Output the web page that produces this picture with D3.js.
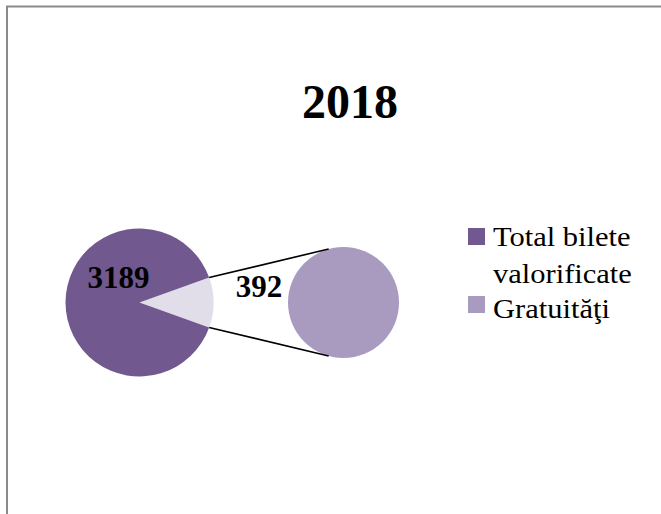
<!DOCTYPE html>
<html>
<head>
<meta charset="utf-8">
<script src="https://cdn.jsdelivr.net/npm/d3@7/dist/d3.min.js"></script>
<style>
  html, body { margin: 0; padding: 0; background: #fff; }
  svg { display: block; }
</style>
</head>
<body>
<svg id="chart" width="661" height="514"></svg>
<script>
// ---- data ----
const title = "2018";
const categories = ["Total bilete valorificate", "Gratuităţi"];
const mainValues = [3189];          // shown in the main pie
const secondaryValues = [392];      // split off into the secondary pie
const colors = ["#71588f", "#a99bc0"];
const otherColor = "#e1dde9";

// ---- layout ----
const W = 661, H = 514;
const mainC = { x: 139.5, y: 302.5 }, mainR = 74;
const secC = { x: 343.5, y: 302.5 }, secR = mainR * 0.75;
const font = "'Liberation Serif', 'Times New Roman', serif";

const svg = d3.select("#chart");

// frame
svg.append("path")
  .attr("d", `M7,${H + 5} V6.5 H${W + 5}`)
  .attr("fill", "none").attr("stroke", "#8a8a8a").attr("stroke-width", 2);

// title
svg.append("text")
  .attr("x", 350).attr("y", 118)
  .attr("text-anchor", "middle")
  .attr("font-family", font).attr("font-weight", "bold").attr("font-size", 48)
  .text(title);

// main pie: main values + "other" (sum of secondary)
const otherTotal = d3.sum(secondaryValues);
const mainTotal = d3.sum(mainValues) + otherTotal;
const otherAngle = otherTotal / mainTotal * 2 * Math.PI;
const start = Math.PI / 2 - otherAngle / 2;
const mainData = [{ v: otherTotal, other: true }].concat(mainValues.map((v, i) => ({ v, i })));
const pie = d3.pie().sort(null).value(d => d.v).startAngle(start).endAngle(start + 2 * Math.PI);
const arcMain = d3.arc().innerRadius(0).outerRadius(mainR);
const gMain = svg.append("g").attr("transform", `translate(${mainC.x},${mainC.y})`);
const mainArcs = pie(mainData);
gMain.selectAll("path").data(mainArcs).join("path")
  .attr("d", arcMain)
  .attr("fill", d => d.data.other ? otherColor : colors[d.data.i]);

// secondary pie
const pie2 = d3.pie().sort(null).startAngle(0).endAngle(2 * Math.PI);
const arcSec = d3.arc().innerRadius(0).outerRadius(secR);
const gSec = svg.append("g").attr("transform", `translate(${secC.x},${secC.y})`);
gSec.selectAll("path").data(pie2(secondaryValues)).join("path")
  .attr("d", arcSec)
  .attr("fill", (d, i) => colors[mainValues.length + i]);

// connector lines
const pt = (c, r, a) => [c.x + r * Math.sin(a), c.y - r * Math.cos(a)];
const otherArc = mainArcs[0];
const off = 15.5 * Math.PI / 180;
const lines = [
  [pt(mainC, mainR, otherArc.startAngle), pt(secC, secR, -off)],
  [pt(mainC, mainR, otherArc.endAngle), pt(secC, secR, Math.PI + off)]
];
svg.selectAll("line.conn").data(lines).join("line")
  .attr("class", "conn")
  .attr("x1", d => d[0][0]).attr("y1", d => d[0][1])
  .attr("x2", d => d[1][0]).attr("y2", d => d[1][1])
  .attr("stroke", "#000").attr("stroke-width", 1.6);

// data labels
svg.append("text")
  .attr("x", mainC.x - 21).attr("y", 288)
  .attr("text-anchor", "middle")
  .attr("font-family", font).attr("font-weight", "bold").attr("font-size", 31)
  .text(mainValues[0]);
svg.append("text")
  .attr("x", 259).attr("y", 297)
  .attr("text-anchor", "middle")
  .attr("font-family", font).attr("font-weight", "bold").attr("font-size", 31)
  .text(secondaryValues[0]);

// legend
const legend = [
  { name: categories[0], lines: ["Total bilete", "valorificate"], color: colors[0] },
  { name: categories[1], lines: ["Gratuităţi"], color: colors[1] }
];
const lg = svg.append("g").attr("font-family", font).attr("font-size", 28);
const sqY = [228, 296];
const baseY = [[246, 283], [317.5]];
legend.forEach((d, i) => {
  lg.append("rect").attr("x", 468).attr("y", sqY[i]).attr("width", 17).attr("height", 17).attr("fill", d.color);
  d.lines.forEach((t, j) => {
    lg.append("text")
      .attr("transform", `translate(493,${baseY[i][j]}) scale(1.09,1)`)
      .text(t);
  });
});
</script>
</body>
</html>
